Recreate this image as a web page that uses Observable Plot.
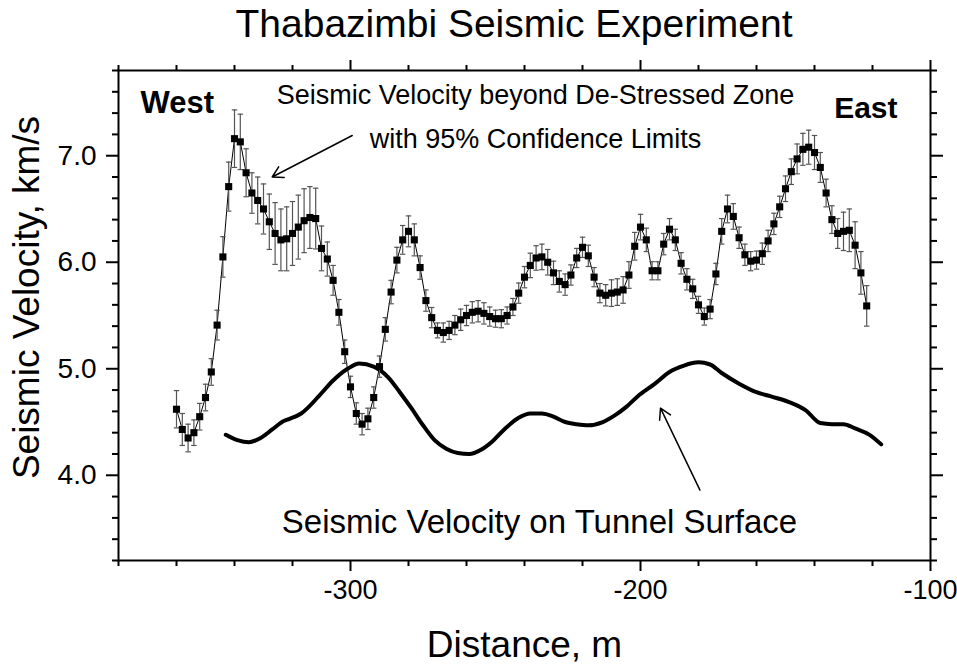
<!DOCTYPE html>
<html>
<head>
<meta charset="utf-8">
<script src="https://cdn.jsdelivr.net/npm/d3@7"></script>
<script src="https://cdn.jsdelivr.net/npm/@observablehq/plot@0.6"></script>
<style>
  html, body { margin: 0; padding: 0; background: #fff; }
  #title { position: relative; width: 957px; height: 50px; font-family: "Liberation Sans", Arial, sans-serif; font-size: 39px; color: #000; }
  #title span { position: absolute; left: 514px; top: 4px; transform: translateX(-50%); white-space: nowrap; line-height: 1; }
  svg { display: block; }
</style>
</head>
<body>
<div id="title"><span></span></div>
<div id="chart"></div>
<script>
// ---- data ----
const titleText = "Thabazimbi Seismic Experiment";
const xLabel = "Distance, m";
const yLabel = "Seismic Velocity, km/s";
const noteUpper = "Seismic Velocity beyond De-Stressed Zone\nwith 95% Confidence Limits";
const noteLower = "Seismic Velocity on Tunnel Surface";
const westLabel = "West";
const eastLabel = "East";

const distance = [
  -360, -358, -356, -354, -352, -350, -348, -346, -344, -342,
  -340, -338, -336, -334, -332, -330, -328, -326, -324, -322,
  -320, -318, -316, -314, -312, -310, -308, -306, -304, -302,
  -300, -298, -296, -294, -292, -290, -288, -286, -284, -282,
  -280, -278, -276, -274, -272, -270, -268, -266, -264, -262,
  -260, -258, -256, -254, -252, -250, -248, -246, -244, -242,
  -240, -238, -236, -234, -232, -230, -228, -226, -224, -222,
  -220, -218, -216, -214, -212, -210, -208, -206, -204, -202,
  -200, -198, -196, -194, -192, -190, -188, -186, -184, -182,
  -180, -178, -176, -174, -172, -170, -168, -166, -164, -162,
  -160, -158, -156, -154, -152, -150, -148, -146, -144, -142,
  -140, -138, -136, -134, -132, -130, -128, -126, -124, -122
];
const velocity = [
  4.62, 4.43, 4.35, 4.40, 4.55, 4.73, 4.97, 5.41, 6.05, 6.71,
  7.16, 7.13, 6.84, 6.65, 6.58, 6.50, 6.38, 6.27, 6.21, 6.22,
  6.27, 6.33, 6.39, 6.42, 6.41, 6.13, 6.03, 5.83, 5.53, 5.16,
  4.83, 4.58, 4.48, 4.53, 4.73, 5.02, 5.37, 5.72, 6.02, 6.21,
  6.29, 6.21, 5.95, 5.64, 5.48, 5.36, 5.34, 5.36, 5.41, 5.46,
  5.50, 5.53, 5.54, 5.52, 5.49, 5.47, 5.47, 5.50, 5.58, 5.71,
  5.86, 5.97, 6.04, 6.05, 6.00, 5.90, 5.82, 5.79, 5.88, 6.04,
  6.14, 6.06, 5.86, 5.71, 5.69, 5.71, 5.72, 5.74, 5.88, 6.15,
  6.33, 6.21, 5.92, 5.92, 6.17, 6.31, 6.21, 5.99, 5.84, 5.75,
  5.60, 5.49, 5.56, 5.89, 6.29, 6.50, 6.43, 6.23, 6.07, 6.01,
  6.02, 6.08, 6.20, 6.36, 6.52, 6.69, 6.85, 6.97, 7.06, 7.08,
  7.03, 6.89, 6.65, 6.40, 6.27, 6.29, 6.30, 6.16, 5.90, 5.59
];
const halfError = [
  0.175, 0.15, 0.13, 0.12, 0.125, 0.125, 0.125, 0.14, 0.19, 0.23,
  0.27, 0.26, 0.225, 0.19, 0.22, 0.235, 0.26, 0.29, 0.29, 0.30,
  0.30, 0.30, 0.30, 0.29, 0.285, 0.21, 0.16, 0.14, 0.12, 0.11,
  0.10, 0.10, 0.10, 0.10, 0.10, 0.10, 0.11, 0.11, 0.12, 0.135,
  0.145, 0.15, 0.11, 0.10, 0.095, 0.07, 0.09, 0.085, 0.09, 0.10,
  0.095, 0.10, 0.10, 0.10, 0.09, 0.08, 0.085, 0.08, 0.08, 0.095,
  0.10, 0.115, 0.115, 0.12, 0.12, 0.11, 0.10, 0.10, 0.095, 0.09,
  0.095, 0.10, 0.09, 0.09, 0.10, 0.125, 0.125, 0.125, 0.125, 0.13,
  0.12, 0.11, 0.085, 0.085, 0.10, 0.10, 0.10, 0.10, 0.10, 0.09,
  0.08, 0.08, 0.09, 0.10, 0.12, 0.13, 0.12, 0.10, 0.10, 0.09,
  0.085, 0.10, 0.10, 0.10, 0.10, 0.12, 0.12, 0.14, 0.15, 0.16,
  0.16, 0.14, 0.13, 0.13, 0.14, 0.18, 0.20, 0.22, 0.20, 0.19
];
const tunnelDistance = [
  -343, -339, -335, -331, -327, -323, -321, -317, -311, -306,
  -301, -297, -292, -287, -283, -279, -275, -271, -267, -263,
  -259, -255, -251, -247, -242, -238, -234, -230, -226, -222,
  -218, -213, -209, -205, -201, -195, -190, -185, -180, -176,
  -172, -166, -160, -155, -149, -143, -138, -134, -130, -126,
  -121, -117
];
const tunnelVelocity = [
  4.38, 4.33, 4.31, 4.35, 4.43, 4.51, 4.53, 4.58, 4.74, 4.89,
  5.00, 5.05, 5.02, 4.92, 4.78, 4.63, 4.47, 4.33, 4.25, 4.21,
  4.20, 4.24, 4.32, 4.43, 4.54, 4.58, 4.58, 4.55, 4.50, 4.48,
  4.47, 4.50, 4.56, 4.64, 4.74, 4.86, 4.97, 5.03, 5.06, 5.04,
  4.96, 4.86, 4.78, 4.74, 4.69, 4.61, 4.49, 4.48, 4.48, 4.44,
  4.38, 4.29
];
const xMajorTicks = [-300, -200, -100];
const xMinorTicks = [-380, -360, -340, -320, -280, -260, -240, -220, -180, -160, -140, -120];
const yMajorTicks = [4, 5, 6, 7];
const yMinorTicks = [3.2, 3.4, 3.6, 3.8, 4.2, 4.4, 4.6, 4.8, 5.2, 5.4, 5.6, 5.8, 6.2, 6.4, 6.6, 6.8, 7.2, 7.4, 7.6, 7.8];

// ---- build tables ----
const points = distance.map((x, i) => ({x, v: velocity[i], e: halfError[i]}));
const tunnel = tunnelDistance.map((x, i) => ({x, v: tunnelVelocity[i]}));

document.querySelector("#title span").textContent = titleText;

const capSymbol = {
  draw(context, size) {
    const w = Math.sqrt(size / Math.PI);
    context.moveTo(-w, 0);
    context.lineTo(w, 0);
  }
};

const font = "Liberation Sans, Arial, sans-serif";
const noText = () => "";

const chart = Plot.plot({
  width: 957,
  height: 616,
  marginTop: 20,
  marginBottom: 106,
  marginLeft: 118,
  marginRight: 27,
  style: {fontFamily: font, background: "#fff", color: "#000"},
  x: {domain: [-380, -100]},
  y: {domain: [3.2, 7.8]},
  marks: [
    // axes: bottom
    Plot.axisX(xMajorTicks, {anchor: "bottom", tickSize: 11, tickPadding: 8, fontSize: 27, strokeWidth: 2, tickFormat: d => String(d), label: null}),
    Plot.axisX(xMinorTicks, {anchor: "bottom", tickSize: 6, strokeWidth: 2, tickFormat: noText, label: null}),
    // top
    Plot.axisX(xMajorTicks, {anchor: "top", tickSize: 11, strokeWidth: 2, tickFormat: noText, label: null}),
    Plot.axisX(xMinorTicks, {anchor: "top", tickSize: 6, strokeWidth: 2, tickFormat: noText, label: null}),
    // left
    Plot.axisY(yMajorTicks, {anchor: "left", tickSize: 12, tickPadding: 10, fontSize: 28, strokeWidth: 2, tickFormat: d => d.toFixed(1), label: null}),
    Plot.axisY(yMinorTicks, {anchor: "left", tickSize: 6, strokeWidth: 2, tickFormat: noText, label: null}),
    // right
    Plot.axisY(yMajorTicks, {anchor: "right", tickSize: 12, strokeWidth: 2, tickFormat: noText, label: null}),
    Plot.axisY(yMinorTicks, {anchor: "right", tickSize: 6, strokeWidth: 2, tickFormat: noText, label: null}),
    Plot.frame({stroke: "#000", strokeWidth: 2}),

    // tunnel-surface velocity
    Plot.line(tunnel, {x: "x", y: "v", stroke: "#000", strokeWidth: 4, curve: "monotone-x"}),

    // measured velocity with confidence limits
    Plot.line(points, {x: "x", y: "v", stroke: "#000", strokeWidth: 1}),
    Plot.ruleX(points, {x: "x", y1: d => d.v - d.e, y2: d => d.v + d.e, stroke: "#555", strokeWidth: 1.2}),
    Plot.dot(points, {x: "x", y: d => d.v + d.e, symbol: capSymbol, r: 2.7, stroke: "#555", strokeWidth: 1.2, fill: "none"}),
    Plot.dot(points, {x: "x", y: d => d.v - d.e, symbol: capSymbol, r: 2.7, stroke: "#555", strokeWidth: 1.2, fill: "none"}),
    Plot.dot(points, {x: "x", y: "v", symbol: "square", r: 4, fill: "#000", stroke: "none"}),

    // annotations
    Plot.text([westLabel], {frameAnchor: "top-left", textAnchor: "start", lineAnchor: "bottom", dx: 22, dy: 42, fontSize: 31, fontWeight: "bold", fill: "#000"}),
    Plot.text([eastLabel], {frameAnchor: "top-right", textAnchor: "end", lineAnchor: "bottom", dx: -33, dy: 47, fontSize: 30, fontWeight: "bold", fill: "#000"}),
    Plot.text([noteUpper], {frameAnchor: "top-left", textAnchor: "middle", lineAnchor: "bottom", dx: 417, dy: 77, fontSize: 27, lineHeight: 1.63, fill: "#000"}),
    Plot.text([noteLower], {frameAnchor: "bottom-left", textAnchor: "middle", lineAnchor: "bottom", dx: 421, dy: -28, fontSize: 33, fill: "#000"}),
    Plot.arrow([0], {x1: -299.4, y1: 7.19, x2: -327.0, y2: 6.80, stroke: "#000", strokeWidth: 1.5, headLength: 12}),
    Plot.arrow([0], {x1: -179.5, y1: 3.86, x2: -193.1, y2: 4.63, stroke: "#000", strokeWidth: 1.5, headLength: 12}),

    // axis titles
    Plot.text([xLabel], {frameAnchor: "bottom", lineAnchor: "bottom", dy: 96, fontSize: 37, fill: "#000"}),
    Plot.text([yLabel], {frameAnchor: "left", rotate: -90, textAnchor: "middle", lineAnchor: "top", dx: -106, dy: -18, fontSize: 37, fill: "#000"})
  ]
});
document.getElementById("chart").append(chart);
</script>
</body>
</html>
